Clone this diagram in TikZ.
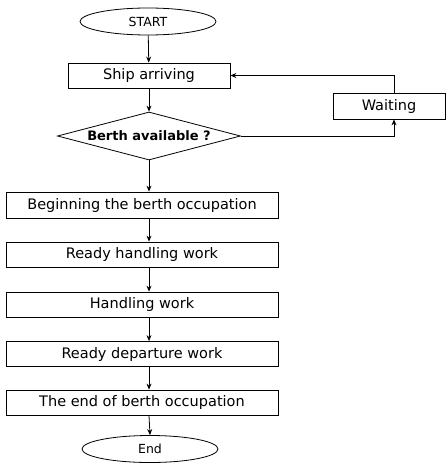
\documentclass[tikz,border=0pt]{standalone}
\usepackage{fontspec}
\setmainfont{DejaVu Sans}
\usetikzlibrary{shapes.geometric,arrows.meta}

\begin{document}
\begin{tikzpicture}[x=1pt, y=-1pt,
        every node/.style={inner sep=0pt},
        term/.style={draw, ellipse, minimum width=136pt, minimum height=27pt, font=\fontsize{12.5}{14}\selectfont},
        stepbox/.style={draw, rectangle, minimum width=272pt, minimum height=25pt, font=\fontsize{14.5}{17}\selectfont},
        decide/.style={draw, diamond, aspect=3.8, minimum width=183pt, minimum height=48pt, font=\bfseries\fontsize{13}{15}\selectfont},
        arr/.style={-{Stealth[length=6pt, width=5pt]}},
        line width=0.8pt]
    \useasboundingbox (0,0) rectangle (446,463);
    % start and arrival check
    \node[term] (start) at (148,21.5) {START};
    \node[stepbox, minimum width=162pt] (ship) at (149,75.5) {Ship arriving};
    \node[decide] (berth) at (149,136) {Berth available ?};
    \node[stepbox, minimum width=112pt, minimum height=26pt] (wait) at (389,106) {Waiting};
    % berth occupation
    \node[stepbox, minimum height=26pt] (begin) at (142,205) {Beginning the berth occupation};
    \node[stepbox] (readyh) at (142,254.5) {Ready handling work};
    \node[stepbox] (handle) at (142,304.5) {Handling work};
    \node[stepbox] (readyd) at (142,354) {Ready departure work};
    \node[stepbox] (endocc) at (142,402.5) {The end of berth occupation};
    \node[term] (finish) at (150,449) {End};

    \draw[arr] (start) -- (ship);
    \draw[arr] (ship) -- (berth);
    \draw[arr] (berth.east) -| ([xshift=5pt]wait.south);
    \draw[arr] ([xshift=5pt]wait.north) |- (ship.east);
    \draw[arr] (berth.south) -- (berth.south |- begin.north);
    \draw[arr] (berth.south |- begin.south) -- (berth.south |- readyh.north);
    \draw[arr] (berth.south |- readyh.south) -- (berth.south |- handle.north);
    \draw[arr] (berth.south |- handle.south) -- (berth.south |- readyd.north);
    \draw[arr] (berth.south |- readyd.south) -- (berth.south |- endocc.north);
    \draw[arr] (berth.south |- endocc.south) -- (finish.north);
\end{tikzpicture}
\end{document}
